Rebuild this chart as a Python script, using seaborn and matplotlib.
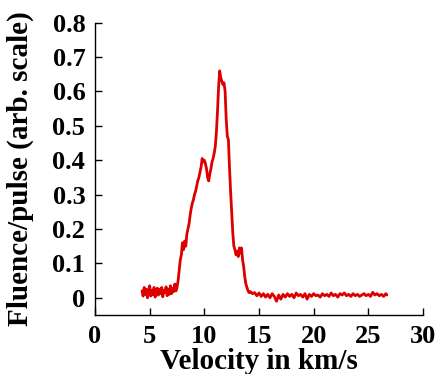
import matplotlib
matplotlib.use("Agg")
import matplotlib.pyplot as plt
import seaborn as sns

# --- datos ---
velocidad = [
    4.3, 4.4, 4.5, 4.6, 4.7, 4.8, 4.9, 5.0, 5.1, 5.2, 5.3, 5.4, 5.5, 5.6, 5.7, 5.8,
    5.9, 6.0, 6.1, 6.2, 6.3, 6.4, 6.5, 6.6, 6.7, 6.8, 6.9, 7.0, 7.1, 7.2, 7.3, 7.4,
    7.5, 7.6, 7.7, 7.8, 7.9, 8.0, 8.1, 8.2, 8.3, 8.4, 8.5, 8.6, 8.7, 8.8, 8.9, 9.0,
    9.1, 9.2, 9.3, 9.4, 9.5, 9.6, 9.7, 9.8, 9.9, 10.0, 10.1, 10.2, 10.3, 10.4, 10.5,
    10.6, 10.7, 10.8, 10.9, 11.0, 11.1, 11.2, 11.3, 11.4, 11.5, 11.6, 11.7, 11.8, 11.9,
    12.0, 12.1, 12.2, 12.3, 12.4, 12.5, 12.6, 12.7, 12.8, 12.9, 13.0, 13.1, 13.2, 13.3,
    13.4, 13.5, 13.6, 13.7, 13.8, 13.9, 14.0, 14.1, 14.2, 14.4, 14.6, 14.8, 15.0,
    15.2, 15.4, 15.6, 15.8, 16.0, 16.2, 16.4, 16.6, 16.8, 17.0, 17.2, 17.4, 17.6,
    17.8, 18.0, 18.2, 18.4, 18.6, 18.8, 19.0, 19.2, 19.4, 19.6, 19.8, 20.0, 20.2,
    20.4, 20.6, 20.8, 21.0, 21.2, 21.4, 21.6, 21.8, 22.0, 22.2, 22.4, 22.6, 22.8,
    23.0, 23.2, 23.4, 23.6, 23.8, 24.0, 24.2, 24.4, 24.6, 24.8, 25.0, 25.2, 25.4,
    25.6, 25.8, 26.0, 26.2, 26.4, 26.6, 26.7,
]
fluencia = [
    0.020, 0.005, 0.030, 0.010, 0.025, 0.000, 0.020, 0.035, 0.005, 0.022, 0.010, 0.030,
    0.002, 0.020, 0.028, 0.008, 0.025, 0.012, 0.030, 0.003, 0.022, 0.015, 0.032, 0.006,
    0.025, 0.010, 0.035, 0.012, 0.028, 0.018, 0.040, 0.020,
    0.030, 0.050, 0.080, 0.110, 0.125, 0.160, 0.140, 0.165, 0.150, 0.185, 0.200, 0.215,
    0.240, 0.260, 0.275, 0.285, 0.300, 0.310, 0.325, 0.340, 0.350, 0.365, 0.380, 0.405,
    0.395, 0.400, 0.390, 0.375, 0.350, 0.340, 0.360, 0.375, 0.395, 0.405, 0.420, 0.440,
    0.480, 0.540, 0.610, 0.660, 0.640, 0.630, 0.620, 0.625, 0.600, 0.520, 0.470, 0.460,
    0.380, 0.310, 0.250, 0.190, 0.150, 0.140, 0.125, 0.135, 0.120, 0.145, 0.130, 0.145,
    0.110, 0.090, 0.060, 0.040, 0.030, 0.020, 0.015, 0.018, 0.012, 0.015, 0.006, 0.014,
    0.004, 0.012, 0.002, 0.010, 0.000, 0.012, 0.004, -0.010, 0.008, -0.004, 0.010, 0.002,
    0.012, 0.004, 0.010, 0.000, 0.014, 0.006, 0.010, 0.002, 0.012, -0.004, 0.010, 0.004,
    0.012, 0.006, 0.008, 0.002, 0.012, 0.006, 0.010, 0.004, 0.014, 0.006, 0.010, 0.002,
    0.012, 0.008, 0.014, 0.006, 0.010, 0.004, 0.012, 0.006, 0.010, 0.004, 0.008, 0.012,
    0.006, 0.010, 0.004, 0.016, 0.008, 0.012, 0.006, 0.010, 0.004, 0.012, 0.008,
]
xticks = [0, 5, 10, 15, 20, 25, 30]
yticks = [0, 0.1, 0.2, 0.3, 0.4, 0.5, 0.6, 0.7, 0.8]

sns.set_style("ticks")
plt.rcParams['font.family'] = ['Liberation Serif', 'DejaVu Serif']
plt.rcParams['font.weight'] = 'bold'
plt.rcParams['text.color'] = 'black'
plt.rcParams['axes.labelcolor'] = 'black'

fig = plt.figure(figsize=(4.39, 3.74), dpi=100)
ax = fig.add_axes([0.2164, 0.1578, 0.7472, 0.7815])

sns.lineplot(x=velocidad, y=fluencia, estimator=None, sort=False,
             color='#dd0000', linewidth=2.0, ax=ax)

ax.set_xlim(0, 30)
ax.set_ylim(-0.05, 0.8)
ax.set_xticks(xticks)
ax.set_xticklabels([str(t) for t in xticks], fontsize=19, fontweight='bold')
ax.set_yticks(yticks)
ax.set_yticklabels(['0' if t == 0 else f'{t:.1f}' for t in yticks], fontsize=19, fontweight='bold')
ax.tick_params(direction='in', length=5, width=1, colors='black', pad=7)
ax.set_xlabel('Velocity in km/s', fontsize=21, fontweight='bold', labelpad=0)
ax.set_ylabel('Fluence/pulse (arb. scale)', fontsize=21, fontweight='bold', labelpad=13)
sns.despine(ax=ax)
for s in ['left', 'bottom']:
    ax.spines[s].set_color('black')
    ax.spines[s].set_linewidth(1)

fig.savefig('out.png', dpi=100)
